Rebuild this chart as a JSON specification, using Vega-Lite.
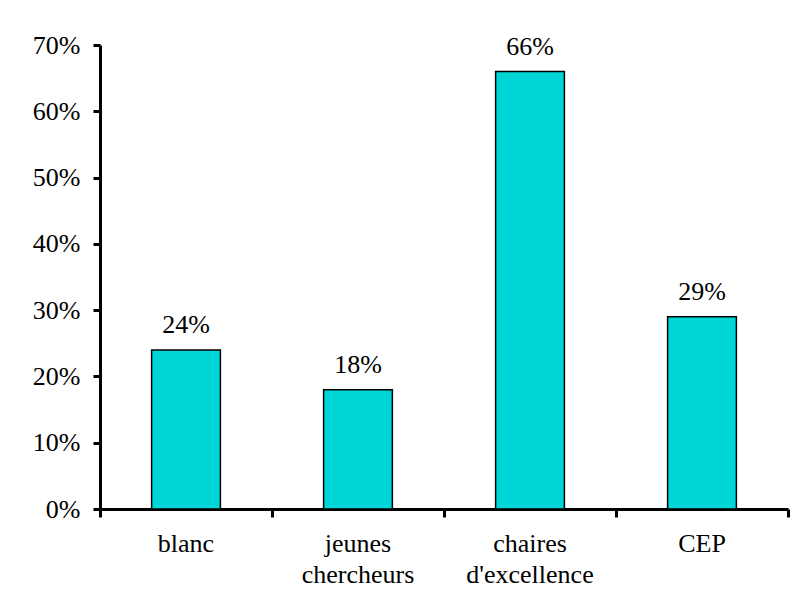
{
  "$schema": "https://vega.github.io/schema/vega-lite/v6.json",
  "autosize": {"type": "none"},
  "width": 688,
  "height": 464,
  "padding": {"left": 100, "top": 45, "right": 3, "bottom": 102},
  "background": "white",
  "config": {
    "view": {"stroke": null},
    "font": "Liberation Serif",
    "axis": {"labelFont": "Liberation Serif", "labelFontSize": 26, "labelColor": "black", "domainColor": "black", "tickColor": "black", "grid": false, "title": null}
  },
  "data": {"values": [
    {"cat": "blanc", "v": 0.24},
    {"cat": "jeunes chercheurs", "v": 0.18},
    {"cat": "chaires d'excellence", "v": 0.66},
    {"cat": "CEP", "v": 0.29}
  ]},
  "layer": [
    {
      "mark": {"type": "bar", "fill": "#00D6D6", "stroke": "black", "strokeWidth": 1.5, "width": {"band": 0.4}},
      "encoding": {
        "x": {"field": "cat", "type": "nominal", "sort": null,
          "scale": {"paddingInner": 0, "paddingOuter": 0},
          "axis": {"labelAngle": 0, "bandPosition": 1, "tickExtra": true, "domainWidth": 3, "tickWidth": 3, "tickSize": 8, "labelPadding": 13, "labelLineHeight": 31, "labelBaseline": "top", "labelExpr": "split(datum.label, ' ')"}},
        "y": {"field": "v", "type": "quantitative",
          "scale": {"domain": [0, 0.7], "nice": false},
          "axis": {"values": [0, 0.1, 0.2, 0.3, 0.4, 0.5, 0.6, 0.7], "format": ".0%", "domainWidth": 3, "tickWidth": 3, "tickSize": 7, "labelPadding": 13}}
      }
    },
    {
      "mark": {"type": "text", "baseline": "alphabetic", "dy": -17, "fontSize": 26, "font": "Liberation Serif", "color": "black"},
      "encoding": {
        "x": {"field": "cat", "type": "nominal", "sort": null},
        "y": {"field": "v", "type": "quantitative"},
        "text": {"field": "v", "type": "quantitative", "format": ".0%"}
      }
    }
  ]
}
